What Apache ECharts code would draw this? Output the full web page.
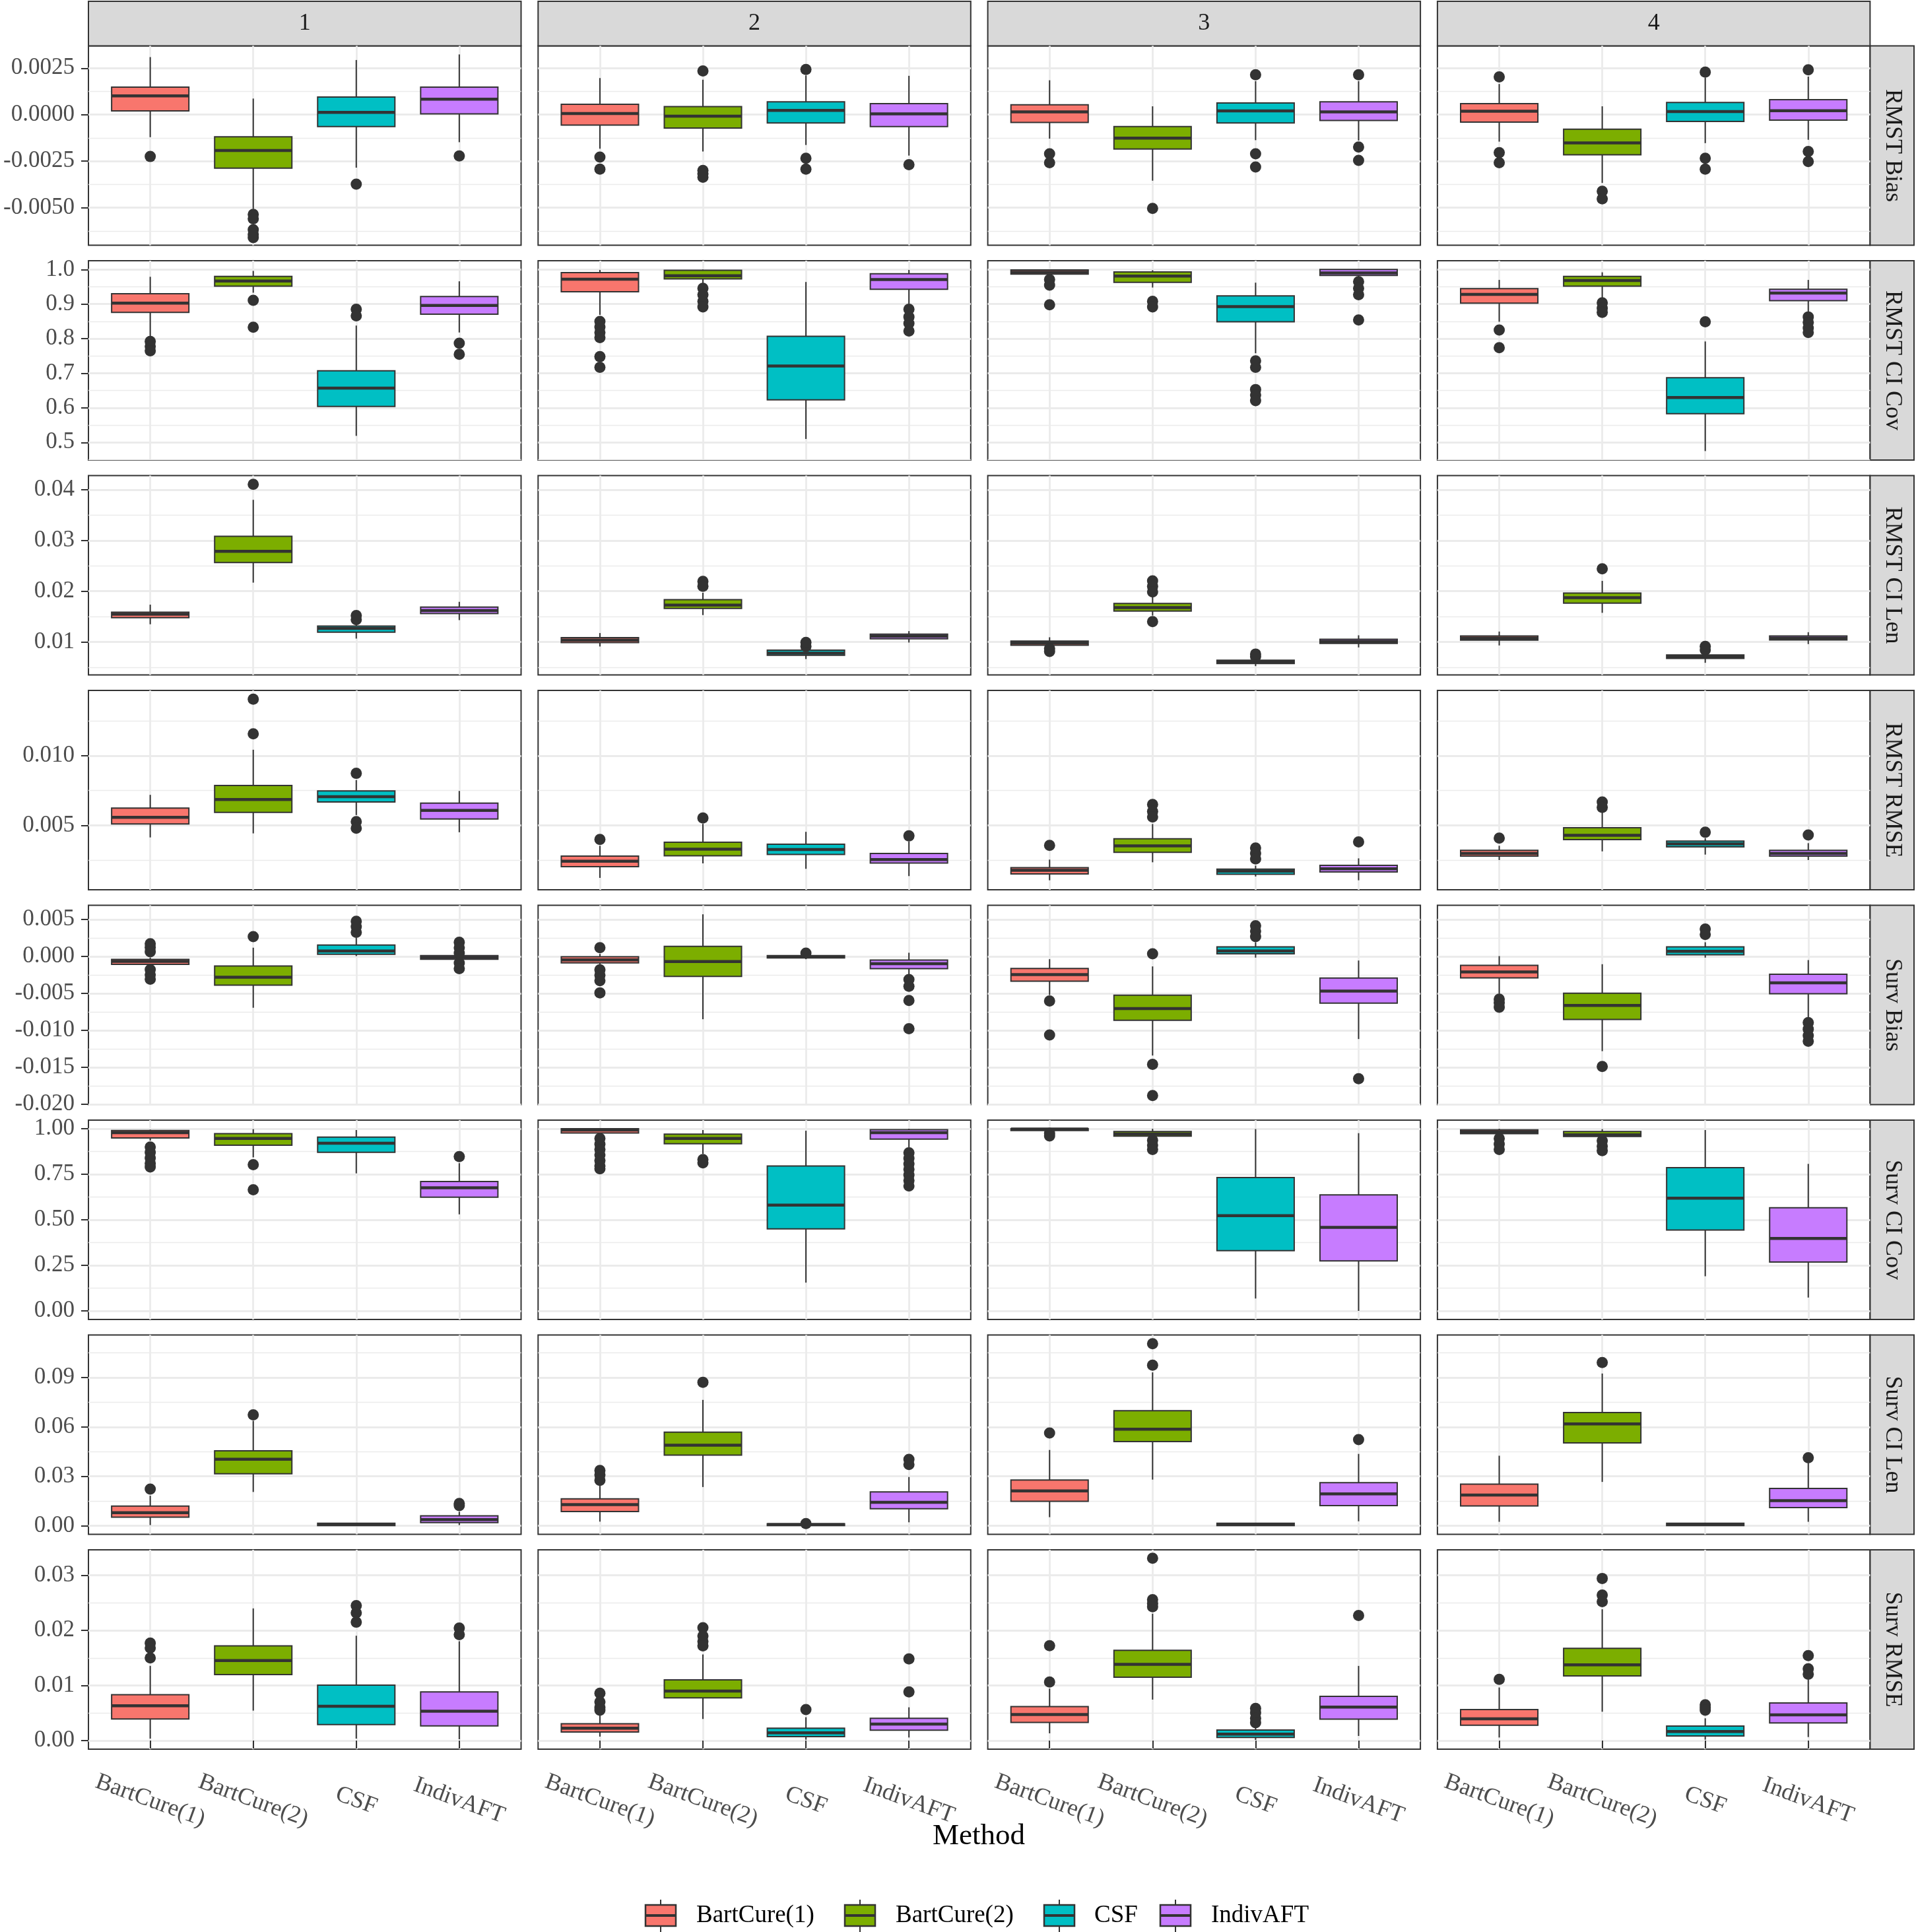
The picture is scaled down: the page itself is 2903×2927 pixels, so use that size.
<!DOCTYPE html>
<html>
<head>
<meta charset="utf-8">
<title>Method comparison boxplots</title>
<script src="https://cdn.jsdelivr.net/npm/echarts@6/dist/echarts.min.js"></script>
<style>
    html, body { margin: 0; padding: 0; background: #ffffff; }
    #main { width: 2903px; height: 2927px; }
</style>
</head>
<body>
<div id="main"></div>
<script>
    // ---- data ----
    var methods = ['BartCure(1)', 'BartCure(2)', 'CSF', 'IndivAFT'];
    var facets = ['1', '2', '3', '4'];
    var metrics = ['RMST Bias', 'RMST CI Cov', 'RMST CI Len', 'RMST RMSE',
                   'Surv Bias', 'Surv CI Cov', 'Surv CI Len', 'Surv RMSE'];

    // per facet, per method: [lower whisker, Q1, median, Q3, upper whisker]
    var rmstBiasBox = [
        [[-0.00121, 0.000202, 0.001009, 0.001483, 0.003097], [-0.00507, -0.00288, -0.00193, -0.00119, 0.000866], [-0.00285, -0.00064, 0.00012, 0.00095, 0.00294], [-0.00148, 0.00004, 0.00083, 0.00148, 0.00324]],
        [[-0.00183, -0.00056, 0.00006, 0.00056, 0.00197], [-0.00198, -0.00072, -0.00008, 0.00043, 0.00188], [-0.00163, -0.00044, 0.00023, 0.00069, 0.00211], [-0.0022, -0.00064, 0.00004, 0.00059, 0.00209]],
        [[-0.00129, -0.00042, 0.00015, 0.00053, 0.00185], [-0.00355, -0.00185, -0.00126, -0.00064, 0.00045], [-0.00137, -0.00044, 0.0002, 0.00063, 0.0018], [-0.00139, -0.00031, 0.00015, 0.00069, 0.0018]],
        [[-0.00145, -0.0004, 0.00019, 0.00059, 0.00165], [-0.00367, -0.00216, -0.00152, -0.00078, 0.00045], [-0.00153, -0.00036, 0.00017, 0.00066, 0.00199], [-0.00135, -0.00029, 0.00021, 0.00081, 0.00205]]
    ];
    var rmstBiasOut = [
        [[-0.00225], [-0.00536, -0.0056, -0.00619, -0.00643, -0.00661], [-0.00374], [-0.00222]],
        [[-0.00228, -0.00293], [0.00235, -0.0030, -0.00318, -0.00336], [0.00243, -0.00234, -0.00293], [-0.00269]],
        [[-0.0021, -0.00258], [-0.00504], [0.00215, -0.0021, -0.00281], [0.00215, -0.00174, -0.00246]],
        [[0.00203, -0.00204, -0.00258], [-0.00412, -0.00453], [0.00229, -0.00234, -0.00293], [0.00241, -0.00198, -0.00252]]
    ];

    var rmstCovBox = [
        [[0.806, 0.876, 0.903, 0.930, 0.979], [0.933, 0.952, 0.967, 0.980, 0.996], [0.519, 0.604, 0.657, 0.707, 0.838], [0.818, 0.871, 0.896, 0.922, 0.966]],
        [[0.869, 0.936, 0.972, 0.991, 0.999], [0.959, 0.973, 0.982, 0.998, 1.0], [0.510, 0.623, 0.721, 0.807, 0.964], [0.895, 0.943, 0.971, 0.988, 0.999]],
        [[0.985, 0.987, 0.992, 0.999, 1.0], [0.948, 0.963, 0.981, 0.993, 0.998], [0.758, 0.849, 0.893, 0.924, 0.962], [0.975, 0.983, 0.990, 1.0, 1.0]],
        [[0.849, 0.903, 0.928, 0.945, 0.970], [0.917, 0.952, 0.968, 0.980, 0.992], [0.475, 0.583, 0.630, 0.687, 0.792], [0.876, 0.910, 0.932, 0.943, 0.970]]
    ];
    var rmstCovOut = [
        [[0.792, 0.778, 0.765], [0.911, 0.833], [0.885, 0.866], [0.787, 0.755]],
        [[0.850, 0.834, 0.818, 0.803, 0.748, 0.717], [0.946, 0.927, 0.908, 0.892], [], [0.885, 0.863, 0.844, 0.822]],
        [[0.971, 0.955, 0.898], [0.908, 0.892], [0.736, 0.717, 0.653, 0.637, 0.621], [0.965, 0.946, 0.927, 0.854]],
        [[0.825, 0.774], [0.904, 0.888, 0.876], [0.849], [0.863, 0.847, 0.831, 0.818]]
    ];

    var rmstLenBox = [
        [[0.01348, 0.01478, 0.01548, 0.01587, 0.01735], [0.0217, 0.02565, 0.02787, 0.03083, 0.03804], [0.01065, 0.01191, 0.01265, 0.01313, 0.0136], [0.0143, 0.01561, 0.01617, 0.01687, 0.01791]],
        [[0.00909, 0.00987, 0.01035, 0.01083, 0.01174], [0.0153, 0.01661, 0.01726, 0.01835, 0.0197], [0.00661, 0.00735, 0.00778, 0.00835, 0.0086], [0.00987, 0.01061, 0.01113, 0.01152, 0.01213]],
        [[0.0092, 0.00935, 0.00978, 0.01017, 0.01091], [0.0152, 0.01609, 0.01678, 0.01757, 0.0188], [0.00522, 0.00574, 0.00604, 0.00639, 0.0066], [0.00891, 0.0097, 0.01009, 0.01052, 0.0113]],
        [[0.0093, 0.01035, 0.01074, 0.01117, 0.01204], [0.01574, 0.01765, 0.01874, 0.01965, 0.02204], [0.00587, 0.00674, 0.00709, 0.00743, 0.0077], [0.00957, 0.01039, 0.01074, 0.01117, 0.01191]]
    ];
    var rmstLenOut = [
        [[], [0.04109], [0.0144, 0.0152], []],
        [[], [0.02196, 0.02096], [0.0091, 0.0099], []],
        [[0.0081, 0.0087], [0.02204, 0.02096, 0.01987, 0.0140], [0.0071, 0.0076], []],
        [[], [0.02443], [0.0084, 0.0091], []]
    ];

    var rmstRmseBox = [
        [[0.00414, 0.00511, 0.00558, 0.00624, 0.00719], [0.00443, 0.00593, 0.00686, 0.00786, 0.01042], [0.00574, 0.00668, 0.00706, 0.00747, 0.00825], [0.00451, 0.00546, 0.00608, 0.0066, 0.00747]],
        [[0.00124, 0.00204, 0.00244, 0.0028, 0.00354], [0.00228, 0.00283, 0.0033, 0.0038, 0.00511], [0.00189, 0.00292, 0.00327, 0.00365, 0.00454], [0.00137, 0.0023, 0.00255, 0.00299, 0.00385]],
        [[0.00107, 0.00153, 0.00179, 0.00197, 0.00255], [0.00236, 0.00307, 0.00354, 0.00404, 0.0051], [0.00134, 0.0015, 0.00173, 0.00187, 0.00212], [0.00107, 0.00167, 0.00189, 0.00214, 0.00264]],
        [[0.00252, 0.0028, 0.00299, 0.00322, 0.00354], [0.00314, 0.00398, 0.00429, 0.00483, 0.00597], [0.00291, 0.00346, 0.00368, 0.00388, 0.00409], [0.00252, 0.0028, 0.00299, 0.00322, 0.00373]]
    ];
    var rmstRmseOut = [
        [[], [0.01404, 0.01156], [0.00873, 0.00527, 0.0048], []],
        [[0.004], [0.00553], [], [0.00425]],
        [[0.00357], [0.0065, 0.0060, 0.0056], [0.00338, 0.00299, 0.0026], [0.00382]],
        [[0.00409], [0.00668, 0.00629], [0.00451], [0.00432]]
    ];

    var survBiasBox = [
        [[-0.00137, -0.0011, -0.00069, -0.00042, -0.00018], [-0.00696, -0.0039, -0.00283, -0.00131, 0.00116], [0.00003, 0.00027, 0.00071, 0.00152, 0.0025], [-0.00057, -0.00039, -0.00015, 0.00009, 0.00018]],
        [[-0.00122, -0.00089, -0.00048, -0.00006, 0.00033], [-0.00851, -0.00271, -0.00071, 0.00134, 0.00568], [-0.00039, -0.00021, -0.00006, 0.00009, 0.00015], [-0.00256, -0.00167, -0.00101, -0.00051, 0.00048]],
        [[-0.00524, -0.00336, -0.00247, -0.00164, -0.00039], [-0.01342, -0.00866, -0.00708, -0.00527, -0.00137], [-0.00018, 0.00033, 0.00071, 0.00128, 0.0019], [-0.01119, -0.00634, -0.0047, -0.00295, -0.00057]],
        [[-0.00509, -0.00292, -0.00211, -0.00122, 0.00003], [-0.01283, -0.00854, -0.00664, -0.005, -0.00107], [-0.00018, 0.00021, 0.00068, 0.00128, 0.0019], [-0.00851, -0.00506, -0.0036, -0.00244, -0.00051]]
    ];
    var survBiasOut = [
        [[0.0017, 0.0012, 0.0006, -0.0018, -0.0025, -0.0031], [0.00265], [0.00473, 0.00399, 0.00324], [0.0019, 0.00116, 0.00042, -0.00092, -0.00167]],
        [[0.00116, -0.00182, -0.00256, -0.0033, -0.00494], [], [0.00042], [-0.00315, -0.00405, -0.00598, -0.00979]],
        [[-0.00604, -0.01065], [0.00033, -0.01461, -0.01884], [0.00414, 0.00339, 0.00265], [-0.01655]],
        [[-0.0058, -0.0063, -0.0069], [-0.01491], [0.00369, 0.00295], [-0.00896, -0.00985, -0.01074, -0.01149]]
    ];

    var survCovBox = [
        [[0.935, 0.949, 0.978, 0.990, 0.995], [0.843, 0.910, 0.947, 0.973, 0.998], [0.755, 0.871, 0.920, 0.954, 0.993], [0.530, 0.624, 0.676, 0.710, 0.811]],
        [[0.965, 0.977, 0.993, 1.0, 1.0], [0.862, 0.9175, 0.947, 0.970, 0.993], [0.155, 0.450, 0.581, 0.795, 0.989], [0.898, 0.943, 0.978, 0.995, 1.0]],
        [[0.985, 0.990, 0.998, 1.0, 1.0], [0.953, 0.959, 0.971, 0.985, 1.0], [0.068, 0.331, 0.523, 0.732, 0.998], [0.0, 0.274, 0.458, 0.637, 0.976]],
        [[0.965, 0.973, 0.983, 0.994, 1.0], [0.949, 0.958, 0.967, 0.985, 0.998], [0.190, 0.444, 0.619, 0.786, 0.993], [0.073, 0.268, 0.398, 0.566, 0.807]]
    ];
    var survCovOut = [
        [[0.90, 0.87, 0.84, 0.81, 0.79], [0.803, 0.665], [], [0.847]],
        [[0.947, 0.916, 0.886, 0.856, 0.825, 0.795, 0.78], [0.831, 0.813], [], [0.868, 0.837, 0.807, 0.777, 0.746, 0.716, 0.686]],
        [[0.975, 0.96], [0.937, 0.91, 0.886], [], []],
        [[0.947, 0.916, 0.886], [0.934, 0.904, 0.880], [], []]
    ];

    var survLenBox = [
        [[0.0004, 0.0052, 0.0079, 0.0119, 0.0182], [0.0205, 0.0316, 0.0404, 0.0455, 0.0637], [0.0001, 0.0001, 0.0008, 0.0015, 0.0015], [0.0004, 0.0019, 0.0037, 0.006, 0.0085]],
        [[0.0025, 0.0086, 0.0128, 0.0163, 0.0249], [0.0235, 0.0429, 0.0489, 0.0568, 0.0764], [0.0001, 0.0001, 0.0007, 0.0012, 0.0012], [0.0021, 0.0103, 0.0142, 0.0205, 0.0296]],
        [[0.0052, 0.0148, 0.0211, 0.0278, 0.046], [0.028, 0.0511, 0.0586, 0.0698, 0.0931], [0.0001, 0.0001, 0.0008, 0.0015, 0.0015], [0.0027, 0.0122, 0.0193, 0.0262, 0.0436]],
        [[0.0024, 0.012, 0.0186, 0.0253, 0.0425], [0.0266, 0.0503, 0.0618, 0.0687, 0.0924], [0.0001, 0.0001, 0.0008, 0.0015, 0.0015], [0.0024, 0.011, 0.0152, 0.0226, 0.038]]
    ];
    var survLenOut = [
        [[0.0222], [0.0673], [], [0.0135, 0.0122]],
        [[0.0336, 0.0309, 0.0276], [0.0871], [0.0013], [0.0403, 0.0372]],
        [[0.0563], [0.1105, 0.0975], [], [0.0523]],
        [[], [0.0991], [], [0.0413]]
    ];

    var survRmseBox = [
        [[0.00036, 0.00392, 0.00632, 0.00832, 0.01356], [0.00544, 0.012, 0.01452, 0.0172, 0.024], [0.00036, 0.00292, 0.00624, 0.01008, 0.01904], [0.00024, 0.00268, 0.00532, 0.00884, 0.01804]],
        [[0.00072, 0.00156, 0.00224, 0.00304, 0.00464], [0.00392, 0.00776, 0.009, 0.01104, 0.01564], [0.00016, 0.00072, 0.0014, 0.00224, 0.00424], [0.00056, 0.00188, 0.003, 0.00404, 0.00604]],
        [[0.00132, 0.00328, 0.00472, 0.00616, 0.00944], [0.00744, 0.01152, 0.01384, 0.0164, 0.02304], [0.00012, 0.00056, 0.00116, 0.00192, 0.00284], [0.00084, 0.00388, 0.00608, 0.00804, 0.01356]],
        [[0.00056, 0.0028, 0.00396, 0.00564, 0.00964], [0.00524, 0.01176, 0.01376, 0.01676, 0.02384], [0.00016, 0.00084, 0.00164, 0.00264, 0.00404], [0.00064, 0.0032, 0.00468, 0.00684, 0.01104]]
    ];
    var survRmseOut = [
        [[0.0177, 0.0168, 0.0150], [], [0.0245, 0.0232, 0.0215], [0.02044, 0.01924]],
        [[0.0086, 0.0070, 0.0060, 0.0055], [0.0205, 0.0190, 0.0180, 0.0172], [0.00564], [0.01484, 0.00884]],
        [[0.01724, 0.01064], [0.0331, 0.0256, 0.0249, 0.0243], [0.00584, 0.00504, 0.00404, 0.00324], [0.02272]],
        [[0.01112], [0.02944, 0.02644, 0.02524], [0.0065, 0.0060, 0.0055], [0.01544, 0.01304, 0.01204]]
    ];

    // tick values per row (major / minor)
    var rmstBiasTicks = [-0.005, -0.0025, 0, 0.0025];
    var rmstBiasMinor = [-0.00625, -0.00375, -0.00125, 0.00125];
    var rmstCovTicks = [0.5, 0.6, 0.7, 0.8, 0.9, 1.0];
    var rmstCovMinor = [0.45, 0.55, 0.65, 0.75, 0.85, 0.95];
    var rmstLenTicks = [0.01, 0.02, 0.03, 0.04];
    var rmstLenMinor = [0.005, 0.015, 0.025, 0.035];
    var rmstRmseTicks = [0.005, 0.010];
    var rmstRmseMinor = [0.0025, 0.0075, 0.0125];
    var survBiasTicks = [-0.020, -0.015, -0.010, -0.005, 0, 0.005];
    var survBiasMinor = [-0.0175, -0.0125, -0.0075, -0.0025, 0.0025];
    var survCovTicks = [0, 0.25, 0.5, 0.75, 1.0];
    var survCovMinor = [0.125, 0.375, 0.625, 0.875];
    var survLenTicks = [0, 0.03, 0.06, 0.09];
    var survLenMinor = [0.015, 0.045, 0.075, 0.105];
    var survRmseTicks = [0, 0.01, 0.02, 0.03];
    var survRmseMinor = [0.005, 0.015, 0.025];

    var rows = [
        {box: rmstBiasBox, out: rmstBiasOut, ticks: rmstBiasTicks, minor: rmstBiasMinor, dec: 4, min: -0.00702, max: 0.0037},
        {box: rmstCovBox, out: rmstCovOut, ticks: rmstCovTicks, minor: rmstCovMinor, dec: 1, min: 0.449, max: 1.0255},
        {box: rmstLenBox, out: rmstLenOut, ticks: rmstLenTicks, minor: rmstLenMinor, dec: 2, min: 0.00348, max: 0.04283},
        {box: rmstRmseBox, out: rmstRmseOut, ticks: rmstRmseTicks, minor: rmstRmseMinor, dec: 3, min: 0.00039, max: 0.01467},
        {box: survBiasBox, out: survBiasOut, ticks: survBiasTicks, minor: survBiasMinor, dec: 3, min: -0.02006, max: 0.0069},
        {box: survCovBox, out: survCovOut, ticks: survCovTicks, minor: survCovMinor, dec: 2, min: -0.0473, max: 1.0473},
        {box: survLenBox, out: survLenOut, ticks: survLenTicks, minor: survLenMinor, dec: 2, min: -0.0052, max: 0.1158},
        {box: survRmseBox, out: survRmseOut, ticks: survRmseTicks, minor: survRmseMinor, dec: 2, min: -0.00156, max: 0.03464}
    ];

    var colors = ['#F8766D', '#7CAE00', '#00BFC4', '#C77CFF'];
    var serif = '"Liberation Serif", "Times New Roman", serif';

    // ---- layout ----
    var panelLeft = 134, panelStep = 681.3, panelW = 655.5;
    var panelTop = 69.5, rowStep = 325.5, panelH = 302;

    function renderBox(params, api) {
        var x = api.value(0);
        var pMin = api.coord([x, api.value(1)]);
        var pQ1 = api.coord([x, api.value(2)]);
        var pMed = api.coord([x, api.value(3)]);
        var pQ3 = api.coord([x, api.value(4)]);
        var pMax = api.coord([x, api.value(5)]);
        var half = api.size([0.75, 0])[0] / 2;
        return {
            type: 'group',
            children: [
                {type: 'line', shape: {x1: pMin[0], y1: pMin[1], x2: pMax[0], y2: pMax[1]},
                 style: {stroke: '#333333', lineWidth: 2}},
                {type: 'rect', shape: {x: pQ3[0] - half, y: pQ3[1], width: half * 2, height: pQ1[1] - pQ3[1]},
                 style: {fill: colors[api.value(6)], stroke: '#333333', lineWidth: 2}},
                {type: 'line', shape: {x1: pMed[0] - half, y1: pMed[1], x2: pMed[0] + half, y2: pMed[1]},
                 style: {stroke: '#333333', lineWidth: 4.5}}
            ]
        };
    }

    var grids = [], xAxes = [], yAxes = [], series = [], graphics = [];

    rows.forEach(function (row, r) {
        var isBottom = r === rows.length - 1;
        for (var c = 0; c < 4; c++) {
            var p = r * 4 + c;
            grids.push({
                left: panelLeft + c * panelStep, top: panelTop + r * rowStep,
                width: panelW, height: panelH,
                show: true, borderColor: '#333333', borderWidth: 2, backgroundColor: '#ffffff',
                containLabel: false, outerBoundsMode: 'none'
            });
            xAxes.push({
                type: 'value', gridIndex: p, min: 0.4, max: 4.6,
                axisLine: {show: false},
                axisTick: {show: isBottom, customValues: [1, 2, 3, 4], length: 12,
                           lineStyle: {color: '#333333', width: 2}},
                axisLabel: {show: isBottom, customValues: [1, 2, 3, 4], rotate: -20,
                            align: 'center', verticalAlign: 'middle', margin: 78,
                            fontFamily: serif, fontSize: 36, color: '#4D4D4D',
                            formatter: function (v) { return methods[Math.round(v) - 1]; }},
                splitLine: {show: true, lineStyle: {color: '#EBEBEB', width: 2.8}}
            });
            // minor grid lines
            yAxes.push({
                type: 'value', gridIndex: p, position: 'right', min: row.min, max: row.max,
                axisLine: {show: false},
                axisTick: {show: false, customValues: row.minor},
                axisLabel: {show: false, customValues: row.minor},
                splitLine: {show: true, lineStyle: {color: '#EBEBEB', width: 1.4}}
            });
            // major grid lines, ticks and labels
            yAxes.push({
                type: 'value', gridIndex: p, position: 'left', min: row.min, max: row.max,
                axisLine: {show: false},
                axisTick: {show: c === 0, customValues: row.ticks, length: 11,
                           lineStyle: {color: '#333333', width: 2}},
                axisLabel: {show: c === 0, customValues: row.ticks, margin: 21,
                            fontFamily: serif, fontSize: 35, color: '#4D4D4D',
                            formatter: (function (d) { return function (v) { return v.toFixed(d); }; })(row.dec)},
                splitLine: {show: true, lineStyle: {color: '#EBEBEB', width: 2.8}}
            });

            var boxData = row.box[c].map(function (s, m) { return [m + 1].concat(s, [m]); });
            var outData = [];
            row.out[c].forEach(function (list, m) {
                list.forEach(function (v) { outData.push([m + 1, v]); });
            });
            series.push({
                type: 'custom', xAxisIndex: p, yAxisIndex: 2 * p + 1,
                renderItem: renderBox, encode: {x: 0, y: [1, 2, 3, 4, 5]},
                data: boxData, silent: true, z: 2
            });
            series.push({
                type: 'scatter', xAxisIndex: p, yAxisIndex: 2 * p + 1,
                symbol: 'circle', symbolSize: 17, itemStyle: {color: '#333333', opacity: 1},
                data: outData, silent: true, z: 3
            });
        }

        // right-hand strip
        var top = panelTop + r * rowStep;
        graphics.push({type: 'rect', shape: {x: 2833.5, y: top, width: 66.5, height: panelH},
                       style: {fill: '#D9D9D9', stroke: '#333333', lineWidth: 2}});
        graphics.push({type: 'text', x: 2867, y: top + panelH / 2, rotation: -Math.PI / 2,
                       style: {text: metrics[r], fill: '#1A1A1A', fontSize: 36, fontFamily: serif,
                               align: 'center', verticalAlign: 'middle',
                               textAlign: 'center', textVerticalAlign: 'middle'}});
    });

    // top strips
    facets.forEach(function (f, c) {
        var left = panelLeft + c * panelStep;
        graphics.push({type: 'rect', shape: {x: left, y: 2, width: panelW, height: 67.5},
                       style: {fill: '#D9D9D9', stroke: '#333333', lineWidth: 2}});
        graphics.push({type: 'text', x: left + panelW / 2, y: 36,
                       style: {text: f, fill: '#1A1A1A', fontSize: 36, fontFamily: serif,
                               align: 'center', verticalAlign: 'middle',
                               textAlign: 'center', textVerticalAlign: 'middle'}});
    });

    // axis title
    graphics.push({type: 'text', x: 1483, y: 2782,
                   style: {text: 'Method', fill: '#000000', fontSize: 45, fontFamily: serif,
                           align: 'center', verticalAlign: 'middle',
                           textAlign: 'center', textVerticalAlign: 'middle'}});

    // legend
    var keyX = [1001, 1303, 1605, 1781];
    var keyTextX = [1055, 1357, 1658, 1835];
    var keyY = 2902;
    methods.forEach(function (m, i) {
        var cx = keyX[i];
        graphics.push({type: 'line', shape: {x1: cx, y1: keyY - 24, x2: cx, y2: keyY + 25},
                       style: {stroke: '#333333', lineWidth: 2}});
        graphics.push({type: 'rect', shape: {x: cx - 23, y: keyY - 16, width: 46, height: 32},
                       style: {fill: colors[i], stroke: '#333333', lineWidth: 2.5}});
        graphics.push({type: 'line', shape: {x1: cx - 23, y1: keyY, x2: cx + 23, y2: keyY},
                       style: {stroke: '#333333', lineWidth: 4}});
        graphics.push({type: 'text', x: keyTextX[i], y: keyY,
                       style: {text: m, fill: '#000000', fontSize: 37, fontFamily: serif,
                               align: 'left', verticalAlign: 'middle',
                               textAlign: 'left', textVerticalAlign: 'middle'}});
    });

    var myChart = echarts.init(document.getElementById('main'));
    myChart.setOption({
        backgroundColor: '#ffffff',
        animation: false,
        grid: grids,
        xAxis: xAxes,
        yAxis: yAxes,
        series: series,
        graphic: {elements: graphics}
    });
</script>
</body>
</html>
